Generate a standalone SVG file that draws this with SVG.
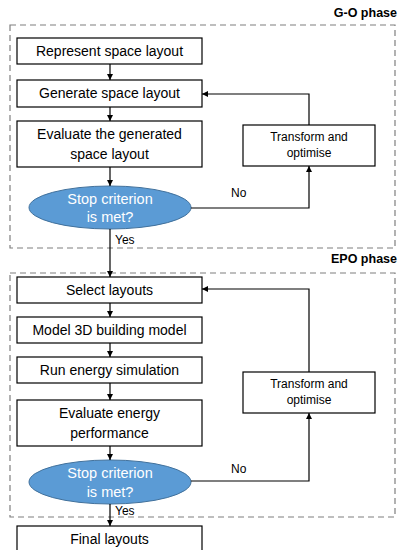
<svg xmlns="http://www.w3.org/2000/svg" width="399" height="550" viewBox="0 0 399 550">
<defs>
<marker id="ah" viewBox="0 0 6 6" refX="6" refY="3" markerWidth="6" markerHeight="6" markerUnits="userSpaceOnUse" orient="auto">
<path d="M0,0 L6,3 L0,6 Z" fill="#000"/>
</marker>
<style>
.box{fill:#fff;stroke:#000;stroke-width:1.2}
.phase{fill:none;stroke:#7f7f7f;stroke-width:1.2;stroke-dasharray:6,4}
.t{font-family:"Liberation Sans",Arial,sans-serif;font-size:14px;fill:#000;text-anchor:middle}
.s{font-family:"Liberation Sans",Arial,sans-serif;font-size:12px;fill:#000;text-anchor:middle}
.w{font-family:"Liberation Sans",Arial,sans-serif;font-size:14.5px;fill:#fff;text-anchor:middle}
.l{font-family:"Liberation Sans",Arial,sans-serif;font-size:12px;fill:#000}
.h{font-family:"Liberation Sans",Arial,sans-serif;font-size:12.5px;font-weight:bold;fill:#000;text-anchor:end}
.dec{fill:#5b9bd5;stroke:#41719c;stroke-width:1}
.c{fill:none;stroke:#000;stroke-width:1.2}
</style>
</defs>
<g id="go-phase">
<rect class="phase" x="10" y="25" width="385" height="223"/>
<text class="h" x="397" y="17">G-O phase</text>
</g>
<g id="epo-phase">
<rect class="phase" x="10" y="273" width="385" height="244"/>
<text class="h" x="397" y="263">EPO phase</text>
</g>
<g id="n1"><rect class="box" x="17" y="38" width="185" height="26"/><text class="t" x="109.5" y="56">Represent space layout</text></g>
<g id="n2"><rect class="box" x="17" y="80" width="185" height="27"/><text class="t" x="109.5" y="98">Generate space layout</text></g>
<g id="n3"><rect class="box" x="17" y="121" width="185" height="46"/><text class="t" x="109.5" y="139">Evaluate the generated</text><text class="t" x="109.5" y="159">space layout</text></g>
<g id="n4"><ellipse class="dec" cx="110" cy="207.5" rx="81" ry="21.5"/><text class="w" x="110" y="204">Stop criterion</text><text class="w" x="110" y="222">is met?</text></g>
<g id="n5"><rect class="box" x="243" y="125" width="132" height="41"/><text class="s" x="309" y="141">Transform and</text><text class="s" x="309" y="157">optimise</text></g>
<g id="n6"><rect class="box" x="17" y="277" width="185" height="26"/><text class="t" x="109.5" y="295">Select layouts</text></g>
<g id="n7"><rect class="box" x="17" y="317" width="185" height="26"/><text class="t" x="109.5" y="335">Model 3D building model</text></g>
<g id="n8"><rect class="box" x="17" y="357" width="185" height="26"/><text class="t" x="109.5" y="375">Run energy simulation</text></g>
<g id="n9"><rect class="box" x="17" y="400" width="185" height="46"/><text class="t" x="109.5" y="418">Evaluate energy</text><text class="t" x="109.5" y="438">performance</text></g>
<g id="n10"><ellipse class="dec" cx="110" cy="482" rx="81" ry="22"/><text class="w" x="110" y="478">Stop criterion</text><text class="w" x="110" y="497">is met?</text></g>
<g id="n11"><rect class="box" x="243" y="372" width="132" height="41"/><text class="s" x="309" y="388">Transform and</text><text class="s" x="309" y="404">optimise</text></g>
<g id="n12"><rect class="box" x="17" y="526" width="185" height="30"/><text class="t" x="109.5" y="544">Final layouts</text></g>
<g id="connectors">
<line class="c" x1="110" y1="64" x2="110" y2="80" marker-end="url(#ah)"/>
<line class="c" x1="110" y1="107" x2="110" y2="121" marker-end="url(#ah)"/>
<line class="c" x1="110" y1="167" x2="110" y2="186" marker-end="url(#ah)"/>
<polyline class="c" points="191,208 309,208 309,166" marker-end="url(#ah)"/>
<polyline class="c" points="309,125 309,94 202,94" marker-end="url(#ah)"/>
<line class="c" x1="110" y1="229" x2="110" y2="277" marker-end="url(#ah)"/>
<line class="c" x1="110" y1="303" x2="110" y2="317" marker-end="url(#ah)"/>
<line class="c" x1="110" y1="343" x2="110" y2="357" marker-end="url(#ah)"/>
<line class="c" x1="110" y1="383" x2="110" y2="400" marker-end="url(#ah)"/>
<line class="c" x1="110" y1="446" x2="110" y2="460" marker-end="url(#ah)"/>
<polyline class="c" points="191,481 309,481 309,413" marker-end="url(#ah)"/>
<polyline class="c" points="309,372 309,289 202,289" marker-end="url(#ah)"/>
<line class="c" x1="110" y1="504" x2="110" y2="526" marker-end="url(#ah)"/>
<text class="l" x="231" y="197">No</text>
<text class="l" x="115" y="244">Yes</text>
<text class="l" x="231" y="473">No</text>
<text class="l" x="115" y="515">Yes</text>
</g>
</svg>
